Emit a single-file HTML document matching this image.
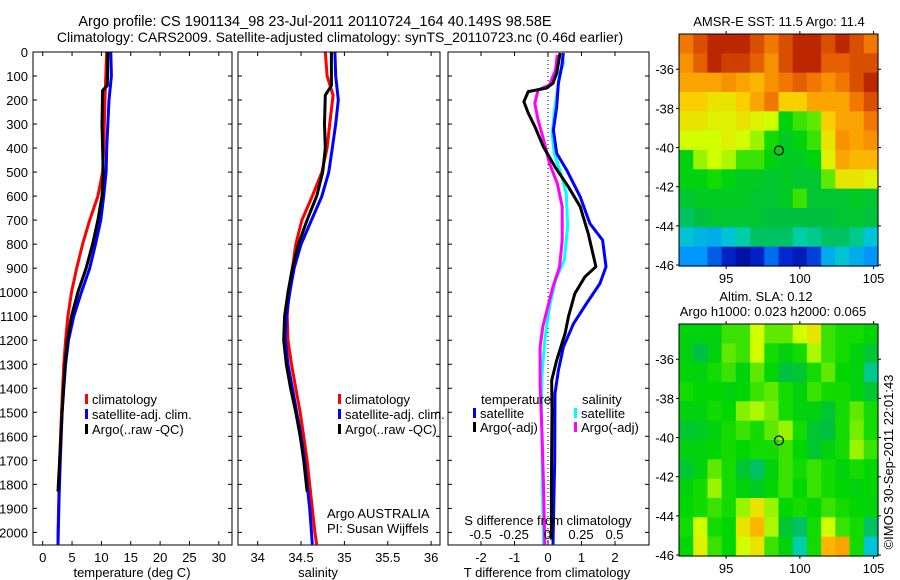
<!DOCTYPE html>
<html><head><meta charset="utf-8"><style>
body{margin:0;background:#fff;}
svg{display:block;font-family:"Liberation Sans",sans-serif;}
text{font-size:13px;fill:#000;}
</style></head><body>
<svg id="chart" width="900" height="580" viewBox="0 0 900 580">
<text x="315" y="26" text-anchor="middle" style="font-size:14.5px">Argo profile: CS 1901134_98 23-Jul-2011 20110724_164 40.149S 98.58E</text>
<text x="340" y="42" text-anchor="middle" style="font-size:14px">Climatology: CARS2009. Satellite-adjusted climatology: synTS_20110723.nc (0.46d earlier)</text>
<g id="g"></g>
</svg>
<script>
const tDepthRed=[0,200,400,500,600,700,800,900,1000,1100,1200,1300,1500,1700,2000,2050];
const tRed=[10.9,10.6,10.4,10.2,9.4,8.0,6.8,5.8,4.9,4.3,3.9,3.6,3.2,2.9,2.6,2.6];
const tDepthBlue=[0,100,200,400,500,600,700,800,900,1000,1100,1200,1300,1400,1500,1700,1850,2050];
const tBlue=[11.6,11.7,11.3,10.9,10.8,10.4,9.9,9.0,8.0,6.6,5.3,4.4,3.9,3.6,3.3,3.0,2.8,2.6];
const tDepthBlack=[0,140,160,300,500,600,700,800,900,1000,1100,1200,1300,1500,1830];
const tBlack=[11.1,11.0,10.2,10.1,10.3,10.1,9.4,8.5,7.4,6.0,4.9,4.2,3.8,3.3,2.6];

const sDepthRed=[0,100,180,300,400,500,600,700,800,900,1000,1100,1200,1300,1400,1500,1600,1700,1800,1900,2000,2050];
const sRed=[34.78,34.80,34.87,34.83,34.80,34.74,34.63,34.51,34.44,34.40,34.36,34.34,34.35,34.39,34.44,34.49,34.53,34.57,34.60,34.63,34.66,34.68];
const sDepthBlue=[0,100,200,300,400,500,600,700,800,900,1000,1100,1200,1300,1400,1500,1600,1700,1800,1900,2000,2050];
const sBlue=[34.89,34.90,34.93,34.90,34.86,34.82,34.74,34.62,34.50,34.42,34.37,34.33,34.32,34.35,34.40,34.45,34.50,34.54,34.57,34.60,34.62,34.63];
const sDepthBlack=[0,140,180,300,400,500,600,700,800,900,1000,1100,1200,1300,1400,1500,1600,1700,1830];
const sBlack=[34.85,34.85,34.78,34.77,34.78,34.75,34.68,34.57,34.47,34.40,34.35,34.31,34.30,34.33,34.38,34.44,34.49,34.53,34.57];

const dtDepthArgo=[4,88,130,150,165,207,254,311,394,478,561,644,755,894,936,1006,1103,1172,1283,1367,1500,1800,2030];
const dtArgo=[0.36,0.26,0.15,-0.04,-0.59,-0.72,-0.59,-0.39,-0.14,0.21,0.61,0.96,1.2,1.43,1.1,0.8,0.61,0.51,0.26,0.11,0.12,0.1,0.1];
const dtDepthSat=[4,61,130,228,325,422,492,603,714,783,894,964,1047,1131,1228,1325,1422,1700,2050];
const dtSat=[0.46,0.41,0.31,0.26,0.16,0.26,0.56,0.96,1.25,1.63,1.73,1.55,1.15,0.76,0.46,0.31,0.21,0.2,0.15];
const dsDepthArgo=[12,75,137,158,214,283,353,464,547,644,783,894,978,1061,1144,1228,1381,1600,1800,2050];
const dsArgo=[0.073,0.06,0.015,-0.07,-0.095,-0.07,-0.035,0.015,0.073,0.11,0.11,0.09,0.04,0.002,-0.035,-0.055,-0.055,-0.04,-0.03,-0.02];
const dsDepthSat=[19,47,88,158,254,339,422,506,589,728,867,950,1061,1200,1339,1422,1700,2050];
const dsSat=[0.11,0.12,0.09,0.075,0.05,0.035,0.05,0.1,0.14,0.15,0.125,0.06,0.015,-0.02,-0.04,-0.045,-0.04,-0.03];

const depthTicks=[0,100,200,300,400,500,600,700,800,900,1000,1100,1200,1300,1400,1500,1600,1700,1800,1900,2000];
const tTicks=[0,5,10,15,20,25,30];
const sTicks=[34,34.5,35,35.5,36];
const sTickLabels=["34","34.5","35","35.5","36"];
const dtTicks=[-2,-1,0,1,2];
const dsTicks=[-0.5,-0.25,0,0.25,0.5];
const dsTickLabels=["-0.5","-0.25","0","0.25","0.5"];
const lonTicks=[95,100,105];
const latTicks=[-36,-38,-40,-42,-44,-46];

const sstGrid=[
[0.85,0.9,0.95,0.95,0.95,0.9,0.85,0.9,0.95,0.95,0.9,0.95,0.9,0.85],
[0.82,0.88,0.95,0.92,0.92,0.88,0.82,0.9,0.95,0.95,0.88,0.88,0.9,0.9],
[0.8,0.8,0.8,0.82,0.8,0.78,0.82,0.85,0.88,0.85,0.82,0.85,0.9,0.95],
[0.75,0.75,0.72,0.72,0.75,0.8,0.85,0.75,0.75,0.8,0.8,0.8,0.85,0.9],
[0.72,0.72,0.7,0.7,0.72,0.7,0.68,0.55,0.6,0.62,0.75,0.8,0.8,0.85],
[0.68,0.68,0.68,0.7,0.68,0.65,0.58,0.52,0.55,0.6,0.72,0.82,0.8,0.82],
[0.55,0.65,0.68,0.66,0.6,0.6,0.55,0.52,0.52,0.55,0.7,0.8,0.78,0.78],
[0.55,0.55,0.58,0.55,0.52,0.52,0.5,0.52,0.5,0.5,0.62,0.72,0.72,0.7],
[0.5,0.52,0.52,0.52,0.52,0.5,0.5,0.52,0.6,0.5,0.5,0.5,0.52,0.5],
[0.45,0.48,0.5,0.5,0.5,0.5,0.48,0.48,0.48,0.48,0.48,0.5,0.5,0.48],
[0.35,0.32,0.3,0.35,0.4,0.45,0.45,0.45,0.4,0.42,0.45,0.45,0.42,0.35],
[0.25,0.25,0.18,0.1,0.05,0.1,0.2,0.12,0.08,0.15,0.3,0.35,0.3,0.25]];
const slaGrid=[
[0.55,0.55,0.55,0.6,0.6,0.68,0.62,0.62,0.68,0.72,0.6,0.58,0.58,0.56],
[0.55,0.47,0.55,0.62,0.6,0.68,0.58,0.55,0.58,0.66,0.6,0.58,0.55,0.5],
[0.56,0.55,0.58,0.6,0.55,0.62,0.57,0.48,0.5,0.58,0.62,0.57,0.55,0.42],
[0.58,0.57,0.57,0.55,0.57,0.6,0.62,0.58,0.55,0.6,0.58,0.58,0.55,0.5],
[0.55,0.55,0.58,0.57,0.64,0.66,0.63,0.58,0.55,0.55,0.5,0.58,0.62,0.58],
[0.5,0.52,0.55,0.58,0.6,0.58,0.62,0.65,0.58,0.5,0.48,0.58,0.63,0.58],
[0.55,0.55,0.57,0.58,0.57,0.58,0.58,0.6,0.57,0.5,0.55,0.58,0.65,0.6],
[0.5,0.55,0.62,0.58,0.5,0.45,0.55,0.6,0.58,0.6,0.58,0.55,0.58,0.57],
[0.55,0.58,0.65,0.58,0.55,0.52,0.57,0.6,0.57,0.6,0.58,0.57,0.55,0.57],
[0.57,0.58,0.6,0.58,0.65,0.72,0.65,0.57,0.58,0.57,0.6,0.58,0.57,0.55],
[0.58,0.68,0.58,0.57,0.72,0.78,0.66,0.5,0.45,0.58,0.68,0.6,0.58,0.45],
[0.57,0.7,0.6,0.57,0.68,0.72,0.6,0.55,0.4,0.58,0.78,0.8,0.58,0.35]];
const argoLon=[98.58];
const argoLat=[-40.149];

const NS='http://www.w3.org/2000/svg';
const G=document.getElementById('g');
function mk(tag,attrs,parent){const e=document.createElementNS(NS,tag);for(const k in attrs)e.setAttribute(k,attrs[k]);(parent||G).appendChild(e);return e;}
function txt(x,y,s,anchor,parent){const e=mk('text',{x:x,y:y,'text-anchor':anchor||'middle'},parent);e.textContent=s;return e;}

const TOP=52,BOT=545;
const yD=d=>TOP+0.2402*d;

const panels=[
 {name:'temperature-panel',x0:33,x1:232,fx:v=>42.7+5.87*v},
 {name:'salinity-panel',x0:238,x1:440,fx:v=>257.7+86.7*(v-34)},
 {name:'difference-panel',x0:448,x1:649,fx:v=>548+33.5*v}
];
const fS=v=>547.5+134*v;

function line(xs,ds,fx,color,name,parent){
  let p='';
  for(let i=0;i<xs.length;i++){p+=(i?'L':'M')+fx(xs[i]).toFixed(1)+' '+Math.min(yD(ds[i]),BOT).toFixed(1);}
  const e=mk('path',{d:p,fill:'none',stroke:color,'stroke-width':3,'stroke-linejoin':'round'},parent);
  
  
  return e;
}

panels.forEach((P,pi)=>{
  const g=mk('g',{});
  
  
  depthTicks.forEach(d=>{
    mk('line',{x1:P.x0,x2:P.x0+4,y1:yD(d),y2:yD(d),stroke:'#000'},g);
    mk('line',{x1:P.x1,x2:P.x1-4,y1:yD(d),y2:yD(d),stroke:'#000'},g);
    if(pi===0){const t=txt(28,yD(d)+5,String(d),'end',g);}
  });
});

const p1=panels[0];
tTicks.forEach(v=>{const x=p1.fx(v);mk('line',{x1:x,x2:x,y1:BOT,y2:BOT-4,stroke:'#000'});mk('line',{x1:x,x2:x,y1:TOP,y2:TOP+4,stroke:'#000'});
 const t=txt(x,562,String(v));});
line(tRed,tDepthRed,p1.fx,'#ff0000','temp-climatology-line');
line(tBlue,tDepthBlue,p1.fx,'#0000ff','temp-satellite-line');
line(tBlack,tDepthBlack,p1.fx,'#000','temp-argo-line');
{const t=txt(132,577,'temperature (deg C)');}

const p2=panels[1];
sTicks.forEach((v,i)=>{const x=p2.fx(v);mk('line',{x1:x,x2:x,y1:BOT,y2:BOT-4,stroke:'#000'});mk('line',{x1:x,x2:x,y1:TOP,y2:TOP+4,stroke:'#000'});
 const t=txt(x,562,sTickLabels[i]);});
line(sRed,sDepthRed,p2.fx,'#ff0000','sal-climatology-line');
line(sBlue,sDepthBlue,p2.fx,'#0000ff','sal-satellite-line');
line(sBlack,sDepthBlack,p2.fx,'#000','sal-argo-line');
{const t=txt(318,577,'salinity');}
txt(327,518,'Argo AUSTRALIA','start');
txt(327,533,'PI: Susan Wijffels','start');

const p3=panels[2];
mk('line',{x1:p3.fx(0),x2:p3.fx(0),y1:TOP,y2:BOT,stroke:'#000','stroke-dasharray':'1,3'});
dtTicks.forEach(v=>{const x=p3.fx(v);mk('line',{x1:x,x2:x,y1:BOT,y2:BOT-4,stroke:'#000'});mk('line',{x1:x,x2:x,y1:TOP,y2:TOP+4,stroke:'#000'});
 const t=txt(x,562,String(v));});
line(dsSat,dsDepthSat,fS,'#00ffff','sal-satellite-diff-line');
line(dsArgo,dsDepthArgo,fS,'#ff00ff','sal-argo-diff-line');
line(dtSat,dtDepthSat,p3.fx,'#0000ff','temp-satellite-diff-line');
line(dtArgo,dtDepthArgo,p3.fx,'#000','temp-argo-diff-line');
dsTicks.forEach((v,i)=>{const t=txt(fS(v),539,dsTickLabels[i]);});
txt(548,525,'S difference from climatology');
{const t=txt(547,577,'T difference from climatology');}

panels.forEach(P=>{mk('rect',{x:P.x0,y:TOP,width:P.x1-P.x0,height:BOT-TOP,fill:'none',stroke:'#000'});});

function legend(x,y,color,label){
  const g=mk('g',{});
  
  
  mk('rect',{x:x,y:y-10,width:3,height:10,fill:color},g);
  txt(x+7,y,label,'start',g);
}
legend(85,404,'#ff0000','climatology');legend(85,419,'#0000ff','satellite-adj. clim.');legend(85,434,'#000','Argo(..raw -QC)');
legend(338,404,'#ff0000','climatology');legend(338,419,'#0000ff','satellite-adj. clim.');legend(338,434,'#000','Argo(..raw -QC)');
txt(481,404,'temperature','start');txt(582,404,'salinity','start');
legend(473,418,'#0000ff','satellite');legend(574,418,'#00ffff','satellite');
legend(473,432,'#000','Argo(-adj)');legend(574,432,'#ff00ff','Argo(-adj)');

const stops=[[0,[0,0,130]],[0.12,[0,40,210]],[0.25,[0,150,255]],[0.38,[0,210,200]],[0.47,[0,190,70]],[0.57,[0,215,0]],[0.68,[210,255,0]],[0.76,[255,200,0]],[0.86,[240,110,0]],[1,[160,0,0]]];
function cmap(v){for(let i=1;i<stops.length;i++){if(v<=stops[i][0]){const a=stops[i-1],b=stops[i];const f=(v-a[0])/(b[0]-a[0]);const c=a[1].map((q,k)=>Math.round(q+(b[1][k]-q)*f));return `rgb(${c})`;}}return 'rgb(160,0,0)';}

function drawMap(name,grid,x0,x1,y0,y1,latTop){
  const g=mk('g',{});
  
  
  const lonL=91.8,lonR=105.3,latB=-46.05;
  const fx=l=>x0+(l-lonL)/(lonR-lonL)*(x1-x0);
  const fy=l=>y0+(latTop-l)/(latTop-latB)*(y1-y0);
  const R=grid.length,C=grid[0].length;
  const cw=(x1-x0)/C,ch=(y1-y0)/R;
  grid.forEach((row,r)=>row.forEach((v,c)=>{
    const e=mk('rect',{x:(x0+c*cw).toFixed(2),y:(y0+r*ch).toFixed(2),width:(cw+0.6).toFixed(2),height:(ch+0.6).toFixed(2),fill:cmap(v)},g);
    
    
  }));
  mk('rect',{x:x0,y:y0,width:x1-x0,height:y1-y0,fill:'none',stroke:'#000'},g);
  latTicks.forEach(l=>{const y=fy(l);mk('line',{x1:x0-3,x2:x0,y1:y,y2:y,stroke:'#000'},g);mk('line',{x1:x1,x2:x1+3,y1:y,y2:y,stroke:'#000'},g);
    const t=txt(x0-5,y+5,String(l),'end',g);});
  lonTicks.forEach(l=>{const x=fx(l);mk('line',{x1:x,x2:x,y1:y1,y2:y1+3,stroke:'#000'},g);mk('line',{x1:x,x2:x,y1:y0,y2:y0-3,stroke:'#000'},g);
    const t=txt(x,y1+17,String(l),'middle',g);});
  const m=mk('circle',{cx:fx(argoLon[0]),cy:fy(argoLat[0]),r:4.5,fill:'none',stroke:'#000','stroke-width':1.2},g);
  
  
}
txt(779,26,'AMSR-E SST: 11.5 Argo: 11.4');
drawMap('sst-map',sstGrid,679,878,34,266,-34.2);
txt(766,301,'Altim. SLA: 0.12');
txt(773,316,'Argo h1000: 0.023 h2000: 0.065');
drawMap('sla-map',slaGrid,679,878,324,556,-34.2);
{const t=mk('text',{x:0,y:0,'text-anchor':'middle',transform:'translate(893,462) rotate(-90)'});t.textContent='©IMOS 30-Sep-2011 22:01:43';}
</script>
</body></html>
